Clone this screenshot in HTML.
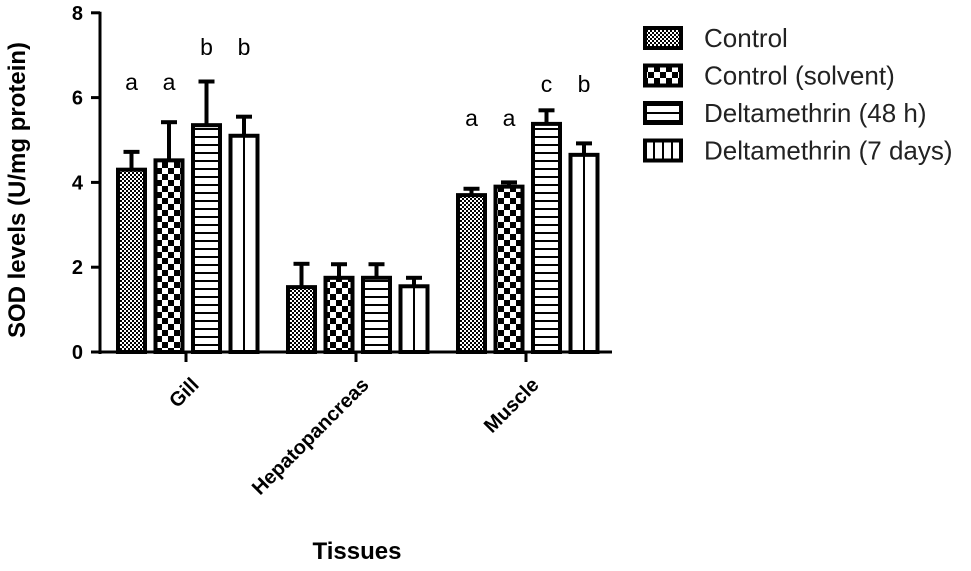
<!DOCTYPE html>
<html><head><meta charset="utf-8"><style>
body{margin:0;background:#fff;}
svg{font-family:"Liberation Sans",Arial,sans-serif;}
</style></head><body>
<svg id="chart" width="971" height="566" viewBox="0 0 971 566" xmlns="http://www.w3.org/2000/svg">
<defs>
<pattern id="p0" width="4" height="4" patternUnits="userSpaceOnUse"><rect width="4" height="4" fill="#fff"/><rect width="2" height="2" fill="#000"/><rect x="2" y="2" width="2" height="2" fill="#000"/></pattern>
<pattern id="p1" width="12" height="12" patternUnits="userSpaceOnUse"><rect width="12" height="12" fill="#fff"/><rect width="6" height="6" fill="#000"/><rect x="6" y="6" width="6" height="6" fill="#000"/></pattern>
<pattern id="p2" width="8" height="8" patternUnits="userSpaceOnUse"><rect width="8" height="8" fill="#fff"/><rect y="0" width="8" height="2" fill="#000"/></pattern>
<pattern id="p3" width="8" height="8" patternUnits="userSpaceOnUse"><rect width="8" height="8" fill="#fff"/></pattern>
</defs>
<g id="plot"></g>
<g id="legend"></g>
</svg>
<script>
const categories = ["Gill", "Hepatopancreas", "Muscle"];
const seriesNames = ["Control", "Control (solvent)", "Deltamethrin (48 h)", "Deltamethrin (7 days)"];
const control = [4.3, 1.53, 3.7];
const controlSolvent = [4.52, 1.75, 3.9];
const delta48 = [5.35, 1.75, 5.38];
const delta7 = [5.1, 1.55, 4.65];
const errControl = [0.42, 0.55, 0.15];
const errSolvent = [0.9, 0.32, 0.1];
const err48 = [1.03, 0.32, 0.32];
const err7 = [0.45, 0.2, 0.27];
const letters0 = ["a", "", "a"];
const letters1 = ["a", "", "a"];
const letters2 = ["b", "", "c"];
const letters3 = ["b", "", "b"];
const letterLevel0 = [6.18, 0, 5.33];
const letterLevel1 = [6.18, 0, 5.33];
const letterLevel2 = [7.0, 0, 6.13];
const letterLevel3 = [7.0, 0, 6.13];
const yTicks = [0, 2, 4, 6, 8];

const NS = "http://www.w3.org/2000/svg";
const series = [control, controlSolvent, delta48, delta7];
const errs = [errControl, errSolvent, err48, err7];
const letters = [letters0, letters1, letters2, letters3];
const letterLevels = [letterLevel0, letterLevel1, letterLevel2, letterLevel3];
const fills = ["url(#p0)", "url(#p1)", "url(#p2)", "url(#p3)"];
const y0 = 352, yPer = 42.4, xAxisL = 100, xAxisR = 612;
function yScale(v){return y0 - v*yPer;}
function xCenter(i){return 186 + i*170;}
function barX(i,s){return xCenter(i) - 68 + s*37.5;}
const barW = 27;
function mk(tag, attrs, parent){const e=document.createElementNS(NS,tag);for(const k in attrs)e.setAttribute(k,attrs[k]);parent.appendChild(e);return e;}
const plot = document.getElementById("plot");

series.forEach((vals,s)=>{
  vals.forEach((v,i)=>{
    const x = barX(i,s), cx = x+barW/2;
    const top = yScale(v), et = yScale(v+errs[s][i]);
    const eb = mk("line",{x1:cx,x2:cx,y1:top,y2:et,stroke:"#000","stroke-width":4},plot);
    
    
    const cap = mk("line",{x1:cx-8,x2:cx+8,y1:et,y2:et,stroke:"#000","stroke-width":4},plot);
    
    
    const r = mk("rect",{x:x,y:top,width:barW,height:y0-top,fill:fills[s],stroke:"#000","stroke-width":4},plot);
    
    
    if(s===3){
      const l = mk("line",{x1:cx,x2:cx,y1:top,y2:y0,stroke:"#000","stroke-width":2},plot);
      
      
    }
    if(letters[s][i]){
      const t = mk("text",{x:cx,y:yScale(letterLevels[s][i]),"text-anchor":"middle","font-size":23},plot);
      t.textContent = letters[s][i];
      
      
    }
  });
});

const ya = mk("line",{x1:xAxisL,x2:xAxisL,y1:yScale(8)-1,y2:y0+2,stroke:"#000","stroke-width":3},plot);


const xa = mk("line",{x1:xAxisL,x2:xAxisR,y1:y0,y2:y0,stroke:"#000","stroke-width":3},plot);


yTicks.forEach(v=>{
  const y=yScale(v);
  const tk = mk("line",{x1:xAxisL-9,x2:xAxisL,y1:y,y2:y,stroke:"#000","stroke-width":3},plot);
  
  
  const t = mk("text",{x:xAxisL-17,y:y+7,"text-anchor":"end","font-size":20,"font-weight":"bold"},plot);
  t.textContent = v;
  
  
});
categories.forEach((c,i)=>{
  const x=xCenter(i);
  const tk = mk("line",{x1:x,x2:x,y1:y0,y2:y0+10,stroke:"#000","stroke-width":3},plot);
  
  
  const ax=x+14, ay=y0+34;
  const t = mk("text",{x:ax,y:ay,"text-anchor":"end","font-size":20,"font-weight":"bold",transform:`rotate(-45 ${ax} ${ay})`},plot);
  t.textContent = c;
  
  
});
const yt = mk("text",{x:0,y:0,"text-anchor":"middle","font-size":24,"font-weight":"bold",transform:"translate(25 190) rotate(-90)"},plot);
yt.textContent = "SOD levels (U/mg protein)";


const xt = mk("text",{x:357,y:559,"text-anchor":"middle","font-size":24,"font-weight":"bold"},plot);
xt.textContent = "Tissues";



const leg = document.getElementById("legend");
seriesNames.forEach((n,s)=>{
  const y = 38 + s*37.5;
  const r = mk("rect",{x:645,y:y-10,width:36,height:20,fill:fills[s],stroke:"#000","stroke-width":4},leg);
  
  
  if(s===3){[654,663,672].forEach(lx=>{const l=mk("line",{x1:lx,x2:lx,y1:y-10,y2:y+10,stroke:"#000","stroke-width":2},leg);});}
  const t = mk("text",{x:704,y:y+9,"font-size":26,fill:"#222"},leg);
  t.textContent = n;
  
  
});
</script>
</body></html>
